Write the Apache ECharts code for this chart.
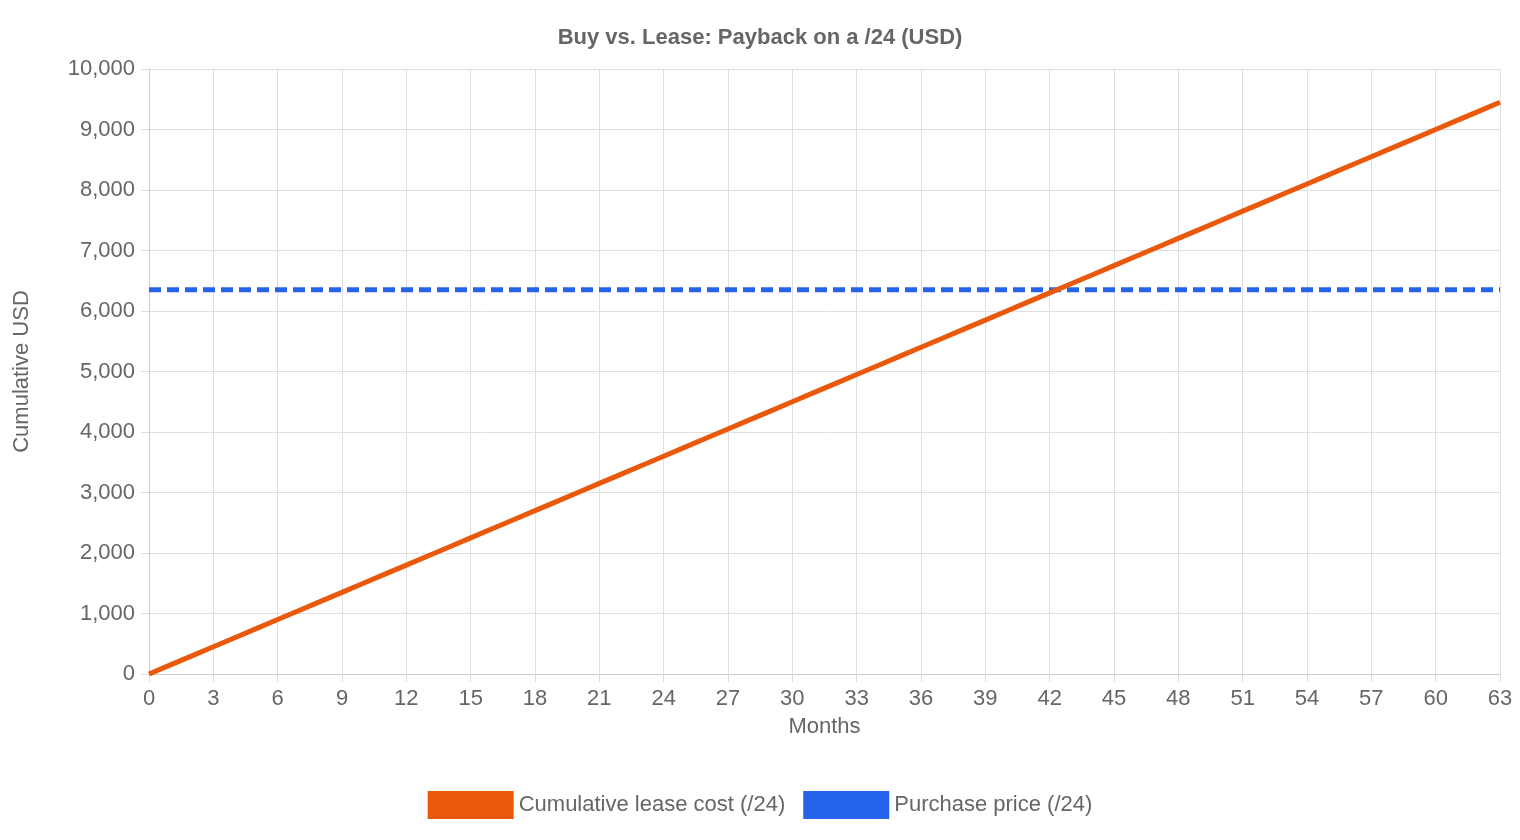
<!DOCTYPE html>
<html><head><meta charset="utf-8">
<script src="https://cdn.jsdelivr.net/npm/echarts@6/dist/echarts.min.js"></script>
<style>html,body{margin:0;padding:0;background:#fff}#c{width:1520px;height:840px}</style>
</head><body><div id="c"></div>
<script>
const months = [0,1,2,3,4,5,6,7,8,9,10,11,12,13,14,15,16,17,18,19,20,21,22,23,24,25,26,27,28,29,30,31,32,33,34,35,36,37,38,39,40,41,42,43,44,45,46,47,48,49,50,51,52,53,54,55,56,57,58,59,60,61,62,63];
const leaseCost = [0,150,300,450,600,750,900,1050,1200,1350,1500,1650,1800,1950,2100,2250,2400,2550,2700,2850,3000,3150,3300,3450,3600,3750,3900,4050,4200,4350,4500,4650,4800,4950,5100,5250,5400,5550,5700,5850,6000,6150,6300,6450,6600,6750,6900,7050,7200,7350,7500,7650,7800,7950,8100,8250,8400,8550,8700,8850,9000,9150,9300,9450];
const purchasePrice = 6350;
const chart = echarts.init(document.getElementById('c'));
const font = 'Liberation Sans, Arial, sans-serif';
chart.setOption({
  animation:false,
  title:{text:'Buy vs. Lease: Payback on a /24 (USD)',left:'center',top:22,textStyle:{fontFamily:font,fontSize:22,fontWeight:'bold',color:'#666'}},
  grid:{left:149,right:20,top:69,bottom:166},
  legend:{bottom:16,itemWidth:86,itemHeight:28,itemGap:18,textStyle:{fontFamily:font,fontSize:22,color:'#666'},
    data:[{name:'Cumulative lease cost (/24)',icon:'rect'},{name:'Purchase price (/24)',icon:'rect'}]},
  xAxis:{type:'value',min:0,max:63,interval:3,name:'Months',nameLocation:'middle',nameGap:42,
    nameTextStyle:{fontFamily:font,fontSize:22,color:'#666'},
    axisLine:{lineStyle:{color:'#ccc'}},axisTick:{show:true,length:8,lineStyle:{color:'#ddd'}},
    axisLabel:{fontFamily:font,fontSize:22,color:'#666',margin:14},
    splitLine:{lineStyle:{color:'#e0e0e0'}}},
  yAxis:{type:'value',min:0,max:10000,interval:1000,name:'Cumulative USD',nameLocation:'middle',nameGap:116,
    nameTextStyle:{fontFamily:font,fontSize:22,color:'#666'},
    axisLine:{show:true,lineStyle:{color:'#ccc'}},axisTick:{show:true,length:8,lineStyle:{color:'#ddd'}},
    axisLabel:{fontFamily:font,fontSize:22,color:'#666',margin:14,formatter:v=>v.toLocaleString('en-US')},
    splitLine:{lineStyle:{color:'#e0e0e0'}}},
  series:[
    {name:'Cumulative lease cost (/24)',type:'line',showSymbol:false,data:months.map((m,i)=>[m,leaseCost[i]]),
      lineStyle:{color:'#ea580c',width:5},itemStyle:{color:'#ea580c'},z:3},
    {name:'Purchase price (/24)',type:'line',showSymbol:false,data:months.map(m=>[m,purchasePrice]),
      lineStyle:{color:'#2563eb',width:5,type:[12,6]},itemStyle:{color:'#2563eb'},z:2}
  ]
});
</script></body></html>
